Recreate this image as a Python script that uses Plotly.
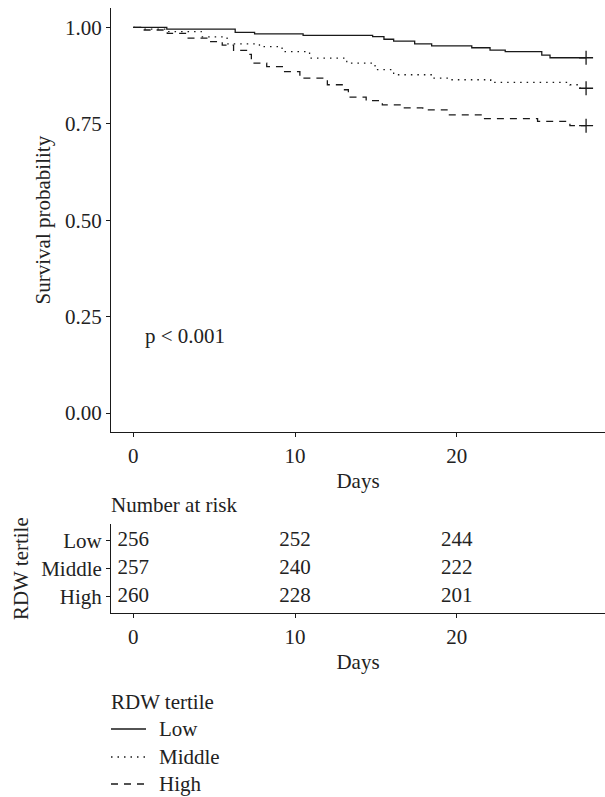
import plotly.graph_objects as go

# ---- data ----
groups = ["Low", "Middle", "High"]

low_t = [0, 2.07, 6.3, 7.5, 10.5, 14.8, 15.5, 16.1, 17.4, 18.45, 20.93, 22.06, 23.0, 25.26, 25.77, 28]
low_s = [1.0, 0.995, 0.987, 0.983, 0.979, 0.976, 0.969, 0.964, 0.957, 0.952, 0.947, 0.941, 0.937, 0.928, 0.921, 0.921]

mid_t = [0, 0.6, 2.0, 4.2, 5.8, 7.8, 9.2, 10.9, 13.2, 14.95, 16.1, 18.5, 19.6, 22.1, 27.0, 27.5, 28]
mid_s = [1.0, 0.995, 0.989, 0.975, 0.957, 0.950, 0.937, 0.920, 0.907, 0.890, 0.877, 0.868, 0.864, 0.857, 0.851, 0.842, 0.842]

high_t = [0, 0.6, 2.1, 3.3, 4.7, 5.5, 6.2, 7.0, 7.3, 8.25, 9.3, 10.3, 12.0, 13.0, 13.3, 14.4, 15.4, 16.5, 17.9, 19.4, 21.6, 25.0, 27.0, 28]
high_s = [1.0, 0.993, 0.984, 0.972, 0.963, 0.954, 0.940, 0.930, 0.907, 0.898, 0.885, 0.868, 0.851, 0.838, 0.819, 0.810, 0.799, 0.791, 0.786, 0.773, 0.763, 0.756, 0.745, 0.745]

censor_t = [28, 28, 28]
censor_s = [0.921, 0.842, 0.745]

risk_times = [0, 10, 20]
risk_low = [256, 252, 244]
risk_mid = [257, 240, 222]
risk_high = [260, 228, 201]

x_ticks = [0, 10, 20]
y_ticks = [0, 0.25, 0.5, 0.75, 1.0]
y_ticktext = ["0.00", "0.25", "0.50", "0.75", "1.00"]
p_text = "p < 0.001"
legend_title = "RDW tertile"

# ---- styling ----
FONT = "Liberation Serif"
TXT = "#222222"
LINE = "#1a1a1a"
FS = 21
dashes = {"Low": "solid", "Middle": "1.5px,5px", "High": "7px,6px"}

W, H = 605, 797
def px_x(p):
    return p / W
def px_y(p):
    return 1 - p / H

fig = go.Figure()

series = {"Low": (low_t, low_s), "Middle": (mid_t, mid_s), "High": (high_t, high_s)}
for g in groups:
    t, s = series[g]
    fig.add_trace(go.Scatter(
        x=t, y=s, mode="lines", name=g, showlegend=False,
        line=dict(color=LINE, width=1.3, dash=dashes[g], shape="hv"),
        xaxis="x", yaxis="y", hoverinfo="skip"))

fig.add_trace(go.Scatter(
    x=censor_t, y=censor_s, mode="markers", showlegend=False,
    marker=dict(symbol="cross-thin", size=10, line=dict(color=LINE, width=1.3)),
    xaxis="x", yaxis="y", hoverinfo="skip"))

# risk table
risk = {"Low": risk_low, "Middle": risk_mid, "High": risk_high}
row_pos = {"Low": 3, "Middle": 2, "High": 1}
for g in groups:
    fig.add_trace(go.Scatter(
        x=risk_times, y=[row_pos[g]] * len(risk_times), mode="text",
        text=[str(v) for v in risk[g]], textposition="middle center",
        textfont=dict(family=FONT, size=FS, color=TXT), showlegend=False,
        xaxis="x2", yaxis="y2", hoverinfo="skip"))

xrange = [-1.38, 29.17]
axis_common = dict(showline=True, linecolor=LINE, linewidth=1, ticks="outside",
                   ticklen=4, tickcolor=LINE, tickwidth=1, showgrid=False, zeroline=False,
                   tickfont=dict(family=FONT, size=FS, color=TXT), automargin=False)

fig.update_layout(
    width=W, height=H, margin=dict(l=0, r=0, t=0, b=0),
    paper_bgcolor="white", plot_bgcolor="white",
    font=dict(family=FONT, size=FS, color=TXT),
    showlegend=False,
    xaxis=dict(domain=[px_x(111), 1], range=xrange, tickvals=x_ticks, anchor="y",
               title=dict(text="Days", standoff=6, font=dict(family=FONT, size=FS, color=TXT)),
               **axis_common),
    yaxis=dict(domain=[px_y(432.3), px_y(8)], range=[-0.05, 1.05], tickvals=y_ticks,
               ticktext=y_ticktext, anchor="x",
               title=dict(text="Survival probability", standoff=8, font=dict(family=FONT, size=FS, color=TXT)),
               **axis_common),
    xaxis2=dict(domain=[px_x(111), 1], range=xrange, tickvals=x_ticks, anchor="y2",
                title=dict(text="Days", standoff=6, font=dict(family=FONT, size=FS, color=TXT)),
                **axis_common),
    yaxis2=dict(domain=[px_y(613.3), px_y(524)], range=[0.4, 3.6], tickvals=[1, 2, 3],
                ticktext=["High", "Middle", "Low"], anchor="x2",
                title=dict(text="RDW tertile", standoff=6, font=dict(family=FONT, size=FS, color=TXT)),
                **axis_common),
)

fig.add_annotation(x=0.6, y=0.2, xref="x", yref="y", text=p_text, showarrow=False,
                   xanchor="left", yanchor="middle", font=dict(family=FONT, size=FS, color=TXT))
fig.add_annotation(x=px_x(109), y=px_y(505), xref="paper", yref="paper", text="Number at risk",
                   showarrow=False, xanchor="left", yanchor="middle",
                   font=dict(family=FONT, size=FS, color=TXT))

# manual legend (key glyphs + labels)
fig.add_annotation(x=px_x(109), y=px_y(702), xref="paper", yref="paper", text=legend_title,
                   showarrow=False, xanchor="left", yanchor="middle",
                   font=dict(family=FONT, size=FS, color=TXT))
leg_y = {"Low": 729, "Middle": 757, "High": 784}
for g in groups:
    yy = px_y(leg_y[g])
    fig.add_shape(type="line", xref="paper", yref="paper", x0=px_x(111), x1=px_x(146),
                  y0=yy, y1=yy, line=dict(color=LINE, width=1.3, dash=dashes[g]))
    fig.add_annotation(x=px_x(157), y=yy, xref="paper", yref="paper", text=g,
                       showarrow=False, xanchor="left", yanchor="middle",
                       font=dict(family=FONT, size=FS, color=TXT))

fig.write_html("out.html", config={"displayModeBar": False},
               post_script="document.body.style.margin='0px';")
